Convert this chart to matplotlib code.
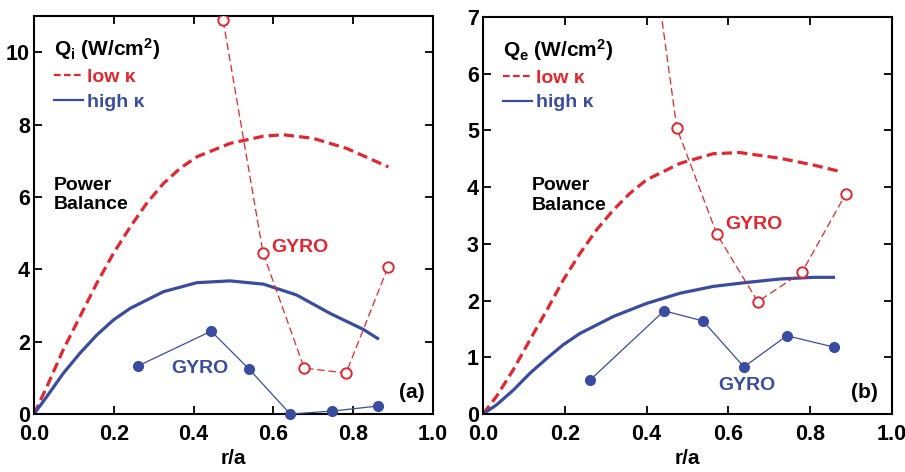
import matplotlib
matplotlib.use('Agg')
import matplotlib.pyplot as plt
from matplotlib.lines import Line2D

plt.rcParams['font.family'] = ['Liberation Sans', 'DejaVu Sans']
plt.rcParams['font.weight'] = 'bold'
plt.rcParams['mathtext.default'] = 'regular'

RED = '#e3262f'
BLUE = '#3a4c9f'

# panel (a) ion heat flux
pb_x_i = [0.0, 0.032, 0.073, 0.115, 0.157, 0.199, 0.241, 0.282, 0.324, 0.366,
          0.408, 0.491, 0.575, 0.625, 0.7, 0.784, 0.888]
pb_low_i = [0.0, 0.75, 1.77, 2.69, 3.61, 4.44, 5.17, 5.82, 6.37, 6.79,
            7.11, 7.48, 7.68, 7.72, 7.62, 7.34, 6.83]
pbh_x_i = [0.0, 0.032, 0.073, 0.115, 0.157, 0.199, 0.241, 0.324, 0.408, 0.491,
           0.575, 0.658, 0.742, 0.825, 0.861]
pb_high_i = [0.0, 0.48, 1.12, 1.68, 2.18, 2.6, 2.92, 3.38, 3.63, 3.68,
             3.59, 3.29, 2.78, 2.34, 2.09]
gyro_low_x_i = [0.474, 0.574, 0.677, 0.782, 0.887]
gyro_low_i = [10.88, 4.45, 1.27, 1.13, 4.06]
gyro_high_x_i = [0.261, 0.444, 0.539, 0.642, 0.747, 0.862]
gyro_high_i = [1.33, 2.29, 1.24, 0.0, 0.08, 0.22]

# panel (b) electron heat flux
pb_x_e = [0.0, 0.033, 0.074, 0.115, 0.156, 0.196, 0.237, 0.278, 0.319, 0.359,
          0.4, 0.482, 0.563, 0.628, 0.726, 0.808, 0.877]
pb_low_e = [0.0, 0.31, 0.78, 1.31, 1.83, 2.36, 2.83, 3.25, 3.6, 3.89,
            4.13, 4.42, 4.59, 4.61, 4.51, 4.39, 4.27]
pbh_x_e = [0.0, 0.033, 0.074, 0.115, 0.156, 0.196, 0.237, 0.319, 0.4, 0.482,
           0.563, 0.645, 0.726, 0.808, 0.857]
pb_high_e = [0.0, 0.16, 0.42, 0.72, 0.98, 1.22, 1.42, 1.72, 1.95, 2.13,
             2.25, 2.32, 2.38, 2.41, 2.41]
gyro_low_x_e = [0.37, 0.474, 0.572, 0.672, 0.78, 0.887]
gyro_low_e = [10.5, 5.04, 3.17, 1.98, 2.5, 3.88]
gyro_high_x_e = [0.262, 0.443, 0.538, 0.638, 0.743, 0.858]
gyro_high_e = [0.6, 1.82, 1.64, 0.83, 1.38, 1.18]

fig = plt.figure(figsize=(9.05, 4.72), dpi=100)
ax1 = fig.add_axes([0.0376, 0.1229, 0.4409, 0.843])
ax2 = fig.add_axes([0.5337, 0.1229, 0.4519, 0.841])

panels = [
    (ax1, pb_x_i, pb_low_i, pbh_x_i, pb_high_i, gyro_low_x_i, gyro_low_i,
     gyro_high_x_i, gyro_high_i, 11, [0, 2, 4, 6, 8, 10], 'Q$_i$ (W/cm$^2$)'),
    (ax2, pb_x_e, pb_low_e, pbh_x_e, pb_high_e, gyro_low_x_e, gyro_low_e,
     gyro_high_x_e, gyro_high_e, 7, [0, 1, 2, 3, 4, 5, 6, 7], 'Q$_e$ (W/cm$^2$)'),
]

for (ax, px, plow, phx, phigh, glx, glow, ghx, ghigh, ymax, yt, qlabel) in panels:
    ax.plot(px, plow, color=RED, lw=2.3, ls=(0, (3.2, 1.6)), zorder=2)
    ax.plot(phx, phigh, color=BLUE, lw=2.3, zorder=2)
    ax.plot(glx, glow, color=RED, lw=0.9, ls=(0, (6, 3)), marker='o', ms=7.5,
            mfc='white', mec=RED, mew=1.4, zorder=3)
    ax.plot(ghx, ghigh, color=BLUE, lw=0.9, marker='o', ms=7, mfc=BLUE,
            mec=BLUE, zorder=3, clip_on=False)

    ax.set_xlim(0, 1.0)
    ax.set_ylim(0, ymax)
    ax.set_xticks([0, 0.2, 0.4, 0.6, 0.8, 1.0])
    ax.set_xticklabels(['0.0', '0.2', '0.4', '0.6', '0.8', '1.0'])
    ax.set_yticks(yt)
    ax.tick_params(direction='in', length=6, width=1.3, top=True, right=True,
                   labelsize=15.5, pad=3)
    ax.tick_params(axis='x', pad=7)
    for s in ax.spines.values():
        s.set_linewidth(1.5)
    ax.set_xlabel('r/a', fontsize=15, fontweight='bold', labelpad=3)

    handles = [Line2D([], [], color=RED, lw=1.6, ls=(0, (3, 1.5))),
               Line2D([], [], color=BLUE, lw=1.6)]
    ax.legend(handles, ['low \u03ba', 'high \u03ba'], loc='upper left',
              bbox_to_anchor=(0.03, 0.97), frameon=False, fontsize=14,
              handlelength=1.5, handletextpad=0.2, labelspacing=0.35,
              borderaxespad=0, title=qlabel, alignment='left',
              labelcolor='linecolor',
              title_fontproperties={'size': 15, 'weight': 'bold'})

ax1.text(0.915, 0.04, '(a)', transform=ax1.transAxes, fontsize=15, fontweight='bold')
ax2.text(0.9, 0.04, '(b)', transform=ax2.transAxes, fontsize=15, fontweight='bold')

ax1.text(0.05, 0.55, 'Power\nBalance', transform=ax1.transAxes, fontsize=14,
         fontweight='bold', va='center', linespacing=1.2)
ax2.text(0.12, 0.55, 'Power\nBalance', transform=ax2.transAxes, fontsize=14,
         fontweight='bold', va='center', linespacing=1.2)
ax1.text(0.595, 4.6, 'GYRO', color=RED, fontsize=14, fontweight='bold', va='center')
ax1.text(0.345, 1.25, 'GYRO', color=BLUE, fontsize=14, fontweight='bold', va='center')
ax2.text(0.593, 3.35, 'GYRO', color=RED, fontsize=14, fontweight='bold', va='center')
ax2.text(0.575, 0.5, 'GYRO', color=BLUE, fontsize=14, fontweight='bold', va='center')

fig.savefig('out.png', dpi=100)
